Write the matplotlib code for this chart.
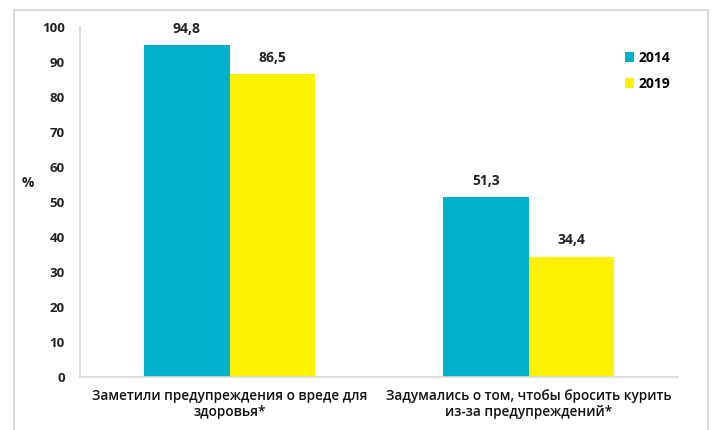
import numpy as np
import matplotlib.pyplot as plt
from matplotlib.patches import Rectangle

# Share of respondents, %
categories = ["Заметили предупреждения о вреде для\nздоровья*",
              "Задумались о том, чтобы бросить курить\nиз-за предупреждений*"]
years = ["2014", "2019"]
values_2014 = [94.8, 51.3]
values_2019 = [86.5, 34.4]
colors = ["#00B2C9", "#FFF200"]

plt.rcParams['font.family'] = ['Open Sans', 'DejaVu Sans']

fig = plt.figure(figsize=(7.13, 4.30), dpi=100)
ax = fig.add_axes([80 / 713, 1 - 377 / 430, 598 / 713, 350 / 430])

# outer frame of the chart area
fig.patches.append(Rectangle((14 / 713, -0.1), 694 / 713, 1.1 - 10 / 430,
                             transform=fig.transFigure, fill=False,
                             edgecolor="#D9D9D9", linewidth=1.5))

x = np.arange(len(categories))
w = 0.285
b1 = ax.bar(x - w / 2, values_2014, w, color=colors[0], label=years[0])
b2 = ax.bar(x + w / 2, values_2019, w, color=colors[1], label=years[1])

for bars in (b1, b2):
    for rect in bars:
        h = rect.get_height()
        ax.text(rect.get_x() + rect.get_width() / 2, h + 2.7,
                f"{h:.1f}".replace(".", ","), ha="center", va="bottom",
                fontsize=10, fontweight="bold", color="#222222")

ax.set_xlim(-0.5, 1.5)
ax.set_ylim(0, 100)
ax.set_yticks(np.arange(0, 101, 10))
ax.set_xticks(x)
ax.set_xticklabels([])
# category names, two centred lines under each group
for xi, name in zip(x, categories):
    ax.text(xi, -0.035, name, transform=ax.get_xaxis_transform(),
            ha="center", va="top", multialignment="center",
            fontsize=9.8, fontweight="semibold", color="#111111")
for lab in ax.get_yticklabels():
    lab.set_fontweight("bold")
    lab.set_fontsize(9.5)
    lab.set_color("#222222")
ax.tick_params(axis="both", length=0)
ax.tick_params(axis="y", pad=11)

for side in ("top", "right"):
    ax.spines[side].set_visible(False)
for side in ("left", "bottom"):
    ax.spines[side].set_color("#D9D9D9")
    ax.spines[side].set_linewidth(1.2)

fig.text(28 / 713, 1 - 183 / 430, "%", fontsize=10, fontweight="bold",
         ha="center", va="center", color="#222222")

ax.legend(loc="upper left", bbox_to_anchor=((612 - 80) / 598, (377 - 38) / 350),
          frameon=False, handlelength=0.7, handleheight=0.7, handletextpad=0.3,
          labelspacing=0.9, prop={"weight": "bold", "size": 10})

fig.savefig("out.png", dpi=100)
